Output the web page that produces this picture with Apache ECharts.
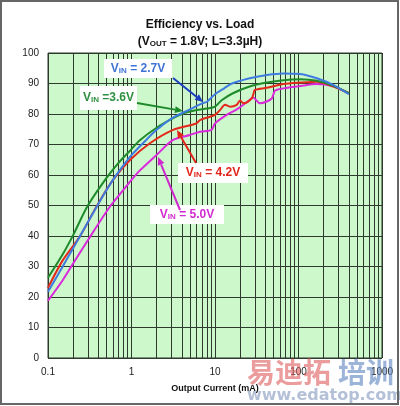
<!DOCTYPE html>
<html><head><meta charset="utf-8">
<script src="https://cdn.jsdelivr.net/npm/echarts@6/dist/echarts.min.js"></script>
<style>html,body{margin:0;padding:0;background:#fff}#c{width:400px;height:406px}</style>
</head><body><div id="c"></div>
<script>
// ---- data ----
const xTickLabels = ['0.1','1','10','100','1000'];
const yTickLabels = [0,10,20,30,40,50,60,70,80,90,100];
const seriesNames = ['VIN = 2.7V','VIN =3.6V','VIN = 4.2V','VIN = 5.0V'];

const x27 = [0.1,0.15,0.2,0.3,0.5,0.7,1.0,1.5,2.0,3.0,5.0,7.0,8.0,10,13,16,26,42,66,105,166,263,400];
const y27 = [21.7,30,36,44.5,55,61,66.5,71.5,74.8,78.5,81.5,83.5,84,86.5,88.5,90,91.7,92.8,93.3,93.1,91.7,89.5,86.5];

const x36 = [0.1,0.15,0.2,0.3,0.5,0.7,1.0,1.27,2.0,3.0,4.2,6.0,8.0,10,12,16.4,26,42,66,105,166,263,400];
const y36 = [26.3,34,40.3,50,59,64,68.5,71.5,75.5,78.3,80.2,81.3,81.8,82.4,84.5,86.8,89,90.3,91.1,91.4,90.9,89.2,86.8];

const x42 = [0.1,0.15,0.24,0.38,0.6,0.96,1.66,3.15,6.0,6.6,8.7,10,11.5,13.2,15.2,18.2,20,21.9,27.5,29,30,41.7,66,105,166,263,400];
const y42 = [23,32,39.8,49.6,58.4,64.9,70.4,74.8,76.9,78,79.1,79.7,81.3,83,82.4,83,84.4,83.5,85.1,86.8,87.9,88.6,89.8,90.3,90.6,89,86.8];

const x50 = [0.1,0.15,0.2,0.32,0.55,0.8,1.0,1.27,2.0,3.15,5.0,6.6,9.1,10,13.8,18.2,26,28.5,34.7,41.7,47.9,52.5,66,105,166,263,400];
const y50 = [18.8,25.5,31,39.8,49.6,55.1,58.4,61.6,66.6,71.5,73.1,74.2,74.8,76.9,79.7,81.5,84.6,85.4,83.5,84.1,85.1,87.7,88.4,89.2,89.8,89,86.8];

const decades = [0.1,1,10,100];
const minorMultipliers = [2,3,4,5,6,7,8,9];

// ---- chart ----
const colors = ['#3f7be0','#1f8a2a','#e4291b','#dc28dc'];
const FONT = 'Liberation Sans, Arial, sans-serif';
const GRIDC = '#2e3a2e';
function pairs(xs, ys){ return xs.map((x,i)=>[x, ys[i]]); }
const minorLines = [];
decades.forEach(d => minorMultipliers.forEach(m => minorLines.push({xAxis: +(d*m).toPrecision(3)})));

const chart = echarts.init(document.getElementById('c'), null, {renderer:'canvas'});
const data = [pairs(x27,y27), pairs(x36,y36), pairs(x42,y42), pairs(x50,y50)];
const series = data.map((d,i)=>({
  name: seriesNames[i], type:'line', data:d, showSymbol:false, symbol:'none', smooth:0.3,
  lineStyle:{color:colors[i], width:2}, z: 10 - i, animation:false
}));
series.push({
  type:'line', data:[], silent:true, animation:false,
  markLine:{silent:true, symbol:'none', label:{show:false}, animation:false,
    lineStyle:{color:GRIDC, width:1, type:'solid'}, data:minorLines}
});

chart.setOption({
  animation:false,
  backgroundColor:'#fff',
  title:{
    left:'center', top:14, itemGap:5,
    text:'Efficiency vs. Load',
    textStyle:{fontFamily:FONT, fontSize:12, fontWeight:'bold', color:'#111'},
    subtext:'{a|(V}{s|OUT}{a| = 1.8V; L=3.3µH)}',
    subtextStyle:{rich:{
      a:{fontFamily:FONT, fontSize:12, fontWeight:'bold', color:'#111'},
      s:{fontFamily:FONT, fontSize:8, fontWeight:'bold', color:'#111', verticalAlign:'bottom', padding:[4,0,0,0]}
    }}
  },
  grid:{left:48, right:18, top:53, bottom:48, show:true, backgroundColor:'#ccf8cc', borderColor:GRIDC, borderWidth:1},
  xAxis:{
    type:'log', logBase:10, min:0.1, max:1000,
    name:'Output Current (mA)', nameLocation:'middle', nameGap:26,
    nameTextStyle:{fontFamily:FONT, fontSize:9, fontWeight:'bold', color:'#111'},
    axisLine:{show:false}, axisTick:{show:false},
    axisLabel:{fontFamily:FONT, fontSize:10, color:'#222', margin:9,
      formatter:(v)=>{ const i = Math.round(Math.log10(v))+1; return xTickLabels[i] || ''; }},
    splitLine:{show:true, lineStyle:{color:GRIDC, width:1}}
  },
  yAxis:{
    type:'value', min:yTickLabels[0], max:yTickLabels[yTickLabels.length-1], interval:10,
    axisLine:{show:false}, axisTick:{show:false},
    axisLabel:{fontFamily:FONT, fontSize:10, color:'#222', margin:9},
    splitLine:{show:true, lineStyle:{color:GRIDC, width:1}}
  },
  series: series
});

// ---- annotations ----
function arrow(x1,y1,x2,y2,color){
  const ang = Math.atan2(y2-y1, x2-x1), L=8, W=3.5;
  const bx = x2 - L*Math.cos(ang), by = y2 - L*Math.sin(ang);
  const px = -Math.sin(ang)*W, py = Math.cos(ang)*W;
  return [
    {type:'line', shape:{x1:x1,y1:y1,x2:bx,y2:by}, style:{stroke:color, lineWidth:2}, z:50},
    {type:'polygon', shape:{points:[[x2,y2],[bx+px,by+py],[bx-px,by-py]]}, style:{fill:color}, z:50}
  ];
}
function label(x,y,w,h,sub,rest,color){
  return [
    {type:'rect', shape:{x:x,y:y,width:w,height:h}, style:{fill:'#fff'}, z:40},
    {type:'text', x:x+w/2, y:y+h/2, z:41, style:{
      text:'{a|V}{s|IN}{a|'+rest+'}', align:'center', verticalAlign:'middle',
      rich:{a:{fontFamily:FONT, fontSize:12, fontWeight:'bold', fill:color},
            s:{fontFamily:FONT, fontSize:8, fontWeight:'bold', fill:color, verticalAlign:'bottom', padding:[4,0,0,0]}}
    }}
  ];
}
const g = [].concat(
  label(104,59,68,19,'IN',' = 2.7V','#3f74d6'),
  label(80,86,57,24,'IN',' =3.6V','#2f9040'),
  label(178,163,70,20,'IN',' = 4.2V','#e2261a'),
  label(150,205,74,19,'IN',' = 5.0V','#d22ad2'),
  arrow(173,78,203,102,'#1d3fc0'),
  arrow(137,103,183,111,'#1d8a2a'),
  arrow(196,163,177,130,'#e2261a'),
  arrow(180,210,158,157,'#cf28cf'),
  [
    {type:'text', x:247, y:372, z:60, style:{text:'易迪拓', font:'bold 28px "Noto Sans CJK SC", sans-serif', fill:'rgba(222,90,90,0.6)', verticalAlign:'middle'}},
    {type:'text', x:338, y:372, z:60, style:{text:'培训', font:'bold 28px "Noto Sans CJK SC", sans-serif', fill:'rgba(90,130,190,0.6)', verticalAlign:'middle'}},
    {type:'text', x:247, y:396, z:60, style:{text:'www.edatop.com', font:'bold 16px "DejaVu Sans", sans-serif', fill:'rgba(130,150,190,0.6)', verticalAlign:'middle'}},
    {type:'rect', shape:{x:1,y:1,width:397,height:403}, style:{fill:'none', stroke:'#666', lineWidth:2}, z:70}
  ]
);
chart.setOption({graphic:{elements:g}});
</script></body></html>
